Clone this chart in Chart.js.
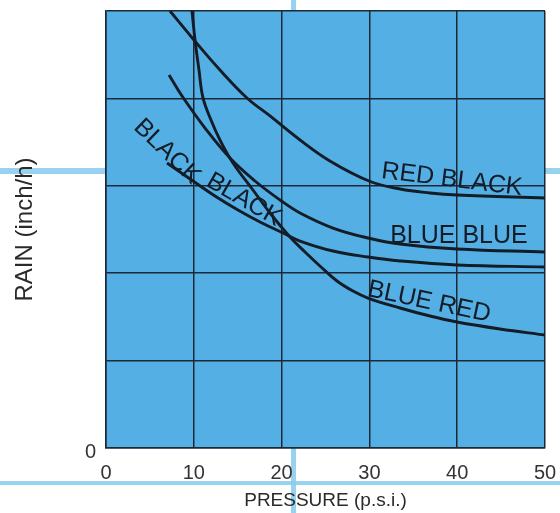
<!DOCTYPE html>
<html>
<head>
<meta charset="utf-8">
<script src="https://cdn.jsdelivr.net/npm/chart.js@4/dist/chart.umd.min.js"></script>
<style>
html,body{margin:0;padding:0;background:#fff;}
#wrap{width:560px;height:513px;position:relative;}
</style>
</head>
<body>
<div id="wrap"><canvas id="c"></canvas></div>
<script>
// ---- data ----
const xTicks = [0, 10, 20, 30, 40, 50];
const yLabelShown = ['0'];

const redBlackX = [7.29, 10.02, 12.98, 16.06, 18.68, 22.1, 25.5, 29.95, 33.5, 36.9, 40.0, 50.0];
const redBlackY = [5.0, 4.668, 4.325, 4.005, 3.799, 3.524, 3.284, 3.055, 2.963, 2.918, 2.895, 2.86];

const blueBlueX = [7.18, 8.66, 11.28, 14.12, 16.97, 19.82, 22.1, 25.85, 29.84, 33.49, 39.98, 50];
const blueBlueY = [4.268, 4.027, 3.661, 3.318, 3.055, 2.838, 2.689, 2.517, 2.403, 2.334, 2.277, 2.243];

const blackBlackX = [6.95, 8.43, 9.91, 12.41, 15.03, 17.54, 20.16, 22.1, 25.85, 29.84, 33.49, 39.98, 50];
const blackBlackY = [3.261, 3.158, 3.055, 2.883, 2.723, 2.586, 2.460, 2.368, 2.254, 2.185, 2.140, 2.094, 2.071];

const blueRedX = [9.79, 10.14, 10.59, 11.05, 11.96, 12.98, 14.46, 16.74, 18.68, 20.96, 22.67, 24.49, 26.31, 28.13, 29.84, 33.49, 36.9, 39.98, 44.87, 50];
const blueRedY = [5.0, 4.668, 4.325, 4.005, 3.753, 3.524, 3.261, 2.952, 2.689, 2.414, 2.243, 2.071, 1.911, 1.796, 1.716, 1.602, 1.510, 1.442, 1.362, 1.293];

const seriesNames = ['RED BLACK', 'BLUE BLUE', 'BLACK BLACK', 'BLUE RED'];

// curve labels (anchor in data units, rotation in degrees)
const curveLabels = [
  {text: 'RED BLACK', x: 39.4, y: 3.07, angle: 7},
  {text: 'BLUE BLUE', x: 40.2, y: 2.43, angle: 0},
  {text: 'BLUE RED', x: 36.8, y: 1.67, angle: 12},
  {text: 'BLACK', x: 6.95, y: 3.39, angle: 44},
  {text: 'BLACK', x: 15.7, y: 2.84, angle: 30}
];

const toPts = (xs, ys) => xs.map((x, i) => ({x: x, y: ys[i]}));

const INK = '#141c28';
const GRID = '#1c2836';
const PLOT_BG = 'rgb(84,176,228)';
const PAPER_LINE = 'rgba(140,205,238,0.9)';

const bgPlugin = {
  id: 'bg',
  beforeDraw(chart) {
    const ctx = chart.ctx, a = chart.chartArea;
    const W = chart.width, H = chart.height;
    ctx.save();
    ctx.fillStyle = PAPER_LINE;
    // faint printed guide lines of the page
    ctx.fillRect(0, 168, W, 6);
    ctx.fillRect(0, 481, W, 4);
    ctx.fillRect(291, 0, 5, H);
    ctx.fillStyle = PLOT_BG;
    ctx.fillRect(a.left, a.top, a.right - a.left, a.bottom - a.top);
    ctx.restore();
  }
};

const labelPlugin = {
  id: 'curveLabels',
  afterDatasetsDraw(chart) {
    const ctx = chart.ctx;
    const xs = chart.scales.x, ys = chart.scales.y;
    ctx.save();
    ctx.fillStyle = INK;
    ctx.font = '25px "Liberation Sans", Arial, sans-serif';
    ctx.textAlign = 'center';
    ctx.textBaseline = 'middle';
    curveLabels.forEach(l => {
      const px = xs.getPixelForValue(l.x), py = ys.getPixelForValue(l.y);
      ctx.save();
      ctx.translate(px, py);
      ctx.rotate(l.angle * Math.PI / 180);
      ctx.fillText(l.text, 0, 0);
      ctx.restore();
    });
    ctx.restore();
  }
};

const mk = (name, xs, ys) => ({
  label: name,
  data: toPts(xs, ys),
  borderColor: INK,
  borderWidth: 2.9,
  pointRadius: 0,
  fill: false,
  tension: 0.4
});

const noPad = s => { s.paddingLeft = 0; s.paddingRight = 0; s.paddingTop = 0; s.paddingBottom = 0; };

new Chart(document.getElementById('c'), {
  type: 'line',
  data: {
    datasets: [
      mk(seriesNames[0], redBlackX, redBlackY),
      mk(seriesNames[1], blueBlueX, blueBlueY),
      mk(seriesNames[2], blackBlackX, blackBlackY),
      mk(seriesNames[3], blueRedX, blueRedY)
    ]
  },
  options: {
    responsive: true,
    maintainAspectRatio: false,
    animation: false,
    layout: {padding: {top: 11, right: 15, left: 0, bottom: 0}},
    plugins: {legend: {display: false}, tooltip: {enabled: false}},
    scales: {
      x: {
        type: 'linear', min: 0, max: 50,
        afterBuildTicks: s => { s.ticks = xTicks.map(v => ({value: v})); },
        afterFit: s => { s.height = 65; noPad(s); },
        grid: {color: GRID, lineWidth: 1.5, drawTicks: false},
        border: {display: true, color: GRID, width: 1.5},
        ticks: {
          padding: 13, color: '#333', maxRotation: 0,
          font: {family: '"Liberation Sans", Arial, sans-serif', size: 20}
        },
        title: {
          display: true, text: 'PRESSURE (p.s.i.)', color: '#2a2a2a',
          font: {family: '"Liberation Sans", Arial, sans-serif', size: 19},
          padding: {top: 0, bottom: 1}
        }
      },
      y: {
        type: 'linear', min: 0, max: 5,
        ticks: {
          stepSize: 1, padding: 10, labelOffset: 4, color: '#333',
          font: {family: '"Liberation Sans", Arial, sans-serif', size: 20},
          callback: (v) => (v === 0 ? yLabelShown[0] : '')
        },
        afterFit: s => { s.width = 106; noPad(s); },
        grid: {color: GRID, lineWidth: 1.5, drawTicks: false},
        border: {display: true, color: GRID, width: 1.5},
        title: {
          display: true, text: 'RAIN (inch/h)', color: '#2a2a2a',
          font: {family: '"Liberation Sans", Arial, sans-serif', size: 24},
          padding: {top: 11, bottom: 0}
        }
      }
    }
  },
  plugins: [bgPlugin, labelPlugin]
});
</script>
</body>
</html>
